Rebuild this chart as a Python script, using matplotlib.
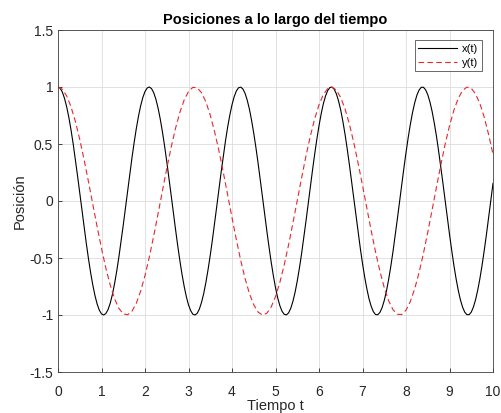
import numpy as np
import matplotlib
matplotlib.use("Agg")
import matplotlib.pyplot as plt

# x(t): samples every 0.05 from t=0 to t=10
x_t_start, x_t_end, x_n = 0.0, 10.0, 201
x_vals = [
    1.00, 0.989, 0.955, 0.900, 0.825, 0.732, 0.622, 0.498, 0.362, 0.219, 0.071, -0.079, -0.227, -0.370, -0.505, -0.628, -0.737, -0.830, -0.904, -0.958,
    -0.990, -1.000, -0.987, -0.953, -0.897, -0.821, -0.726, -0.615, -0.490, -0.354, -0.211, -0.062, 0.087, 0.235, 0.378, 0.512, 0.635, 0.743, 0.835, 0.908,
    0.960, 0.991, 1.000, 0.986, 0.950, 0.893, 0.816, 0.720, 0.608, 0.483, 0.347, 0.202, 0.054, -0.096, -0.243, -0.386, -0.519, -0.641, -0.748, -0.839,
    -0.911, -0.962, -0.993, -1.000, -0.985, -0.948, -0.889, -0.811, -0.714, -0.601, -0.476, -0.339, -0.194, -0.046, 0.104, 0.252, 0.393, 0.527, 0.648, 0.754,
    0.844, 0.915, 0.965, 0.993, 0.999, 0.983, 0.945, 0.885, 0.806, 0.708, 0.594, 0.468, 0.331, 0.186, 0.037, -0.113, -0.260, -0.401, -0.534, -0.654,
    -0.760, -0.849, -0.918, -0.967, -0.994, -0.999, -0.982, -0.942, -0.881, -0.801, -0.702, -0.588, -0.461, -0.323, -0.178, -0.029, 0.121, 0.268, 0.409, 0.541,
    0.660, 0.765, 0.853, 0.921, 0.969, 0.995, 0.999, 0.980, 0.939, 0.877, 0.796, 0.696, 0.582, 0.453, 0.315, 0.169, 0.021, -0.129, -0.276, -0.416,
    -0.548, -0.667, -0.770, -0.858, -0.924, -0.971, -0.996, -0.998, -0.978, -0.936, -0.873, -0.791, -0.690, -0.575, -0.446, -0.307, -0.161, -0.012, 0.138, 0.284,
    0.424, 0.555, 0.673, 0.776, 0.861, 0.928, 0.973, 0.997, 0.998, 0.976, 0.933, 0.869, 0.786, 0.684, 0.569, 0.438, 0.299, 0.153, 0.004, -0.146,
    -0.292, -0.431, -0.562, -0.679, -0.781, -0.866, -0.930, -0.975, -0.997, -0.997, -0.975, -0.930, -0.865, -0.780, -0.678, -0.561, -0.430, -0.291, -0.144, 0.005,
    0.154,
]

# y(t): samples every 0.1 from t=0 to t=10
y_t_start, y_t_end, y_n = 0.0, 10.0, 101
y_vals = [1.000, 0.980, 0.921, 0.825, 0.697, 0.540, 0.362, 0.170, -0.029, -0.227,
          -0.416, -0.589, -0.737, -0.857, -0.942, -0.990, -0.998, -0.967, -0.897, -0.791,
          -0.654, -0.490, -0.307, -0.112, 0.087, 0.284, 0.469, 0.635, 0.776, 0.886,
          0.960, 0.997, 0.993, 0.950, 0.869, 0.754, 0.608, 0.439, 0.251, 0.054,
          -0.146, -0.339, -0.520, -0.679, -0.811, -0.911, -0.975, -1.000, -0.985, -0.930,
          -0.839, -0.714, -0.561, -0.386, -0.194, 0.004, 0.203, 0.394, 0.568, 0.720,
          0.844, 0.934, 0.986, 0.999, 0.973, 0.907, 0.806, 0.672, 0.512, 0.330,
          0.137, -0.063, -0.260, -0.447, -0.615, -0.760, -0.874, -0.953, -0.994, -0.996,
          -0.958, -0.881, -0.770, -0.628, -0.461, -0.275, -0.079, 0.121, 0.316, 0.498,
          0.660, 0.795, 0.900, 0.969, 0.999, 0.989, 0.939, 0.853, 0.733, 0.582,
          0.409]

series_labels = ['x(t)', 'y(t)']
x_ticks = [0, 1, 2, 3, 4, 5, 6, 7, 8, 9, 10]
y_ticks = [-1.5, -1, -0.5, 0, 0.5, 1, 1.5]
y_ticklabels = ["-1.5", "-1", "-0.5", "0", "0.5", "1", "1.5"]

tx = np.linspace(x_t_start, x_t_end, x_n)
ty = np.linspace(y_t_start, y_t_end, y_n)

plt.rcParams['font.family'] = ['Liberation Sans', 'DejaVu Sans']

fig = plt.figure(figsize=(5.01, 4.13), dpi=100)
ax = fig.add_axes([58 / 501, 41 / 413, 435 / 501, 342 / 413])

ax.plot(tx, x_vals, color='black', linewidth=0.8, label=series_labels[0])
ax.plot(ty, y_vals, color='#e8272a', linewidth=0.8, linestyle=(0, (5, 3)), label=series_labels[1])

ax.set_xlim(0, 10)
ax.set_ylim(-1.5, 1.5)
ax.set_xticks(x_ticks)
ax.set_yticks(y_ticks)
ax.set_yticklabels(y_ticklabels)
ax.tick_params(direction='in', length=3, width=0.6, labelsize=10, colors='#262626',
               top=False, right=False)
ax.tick_params(axis='x', pad=9)
ax.tick_params(axis='y', pad=3.5)
ax.grid(True, color='#dcdcdc', linewidth=0.6)
ax.set_axisbelow(True)
for s in ax.spines.values():
    s.set_color('#404040')
    s.set_linewidth(0.6)

ax.set_title('Posiciones a lo largo del tiempo', fontsize=10.5, fontweight='bold', pad=4)
ax.set_xlabel('Tiempo t', fontsize=10.5, color='#262626')
ax.set_ylabel('Posición', fontsize=10.5, color='#262626')
ax.xaxis.set_label_coords(0.5, -0.078)
ax.yaxis.set_label_coords(-0.072, 0.5)

leg = ax.legend(loc='upper right', fontsize=8, frameon=True, fancybox=False,
                edgecolor='#262626', handlelength=3.5, borderpad=0.33,
                labelspacing=0.37, handletextpad=0.45, borderaxespad=0,
                bbox_to_anchor=(424 / 435, 332 / 342))
leg.get_frame().set_linewidth(0.6)

fig.savefig('out.png', dpi=100)
